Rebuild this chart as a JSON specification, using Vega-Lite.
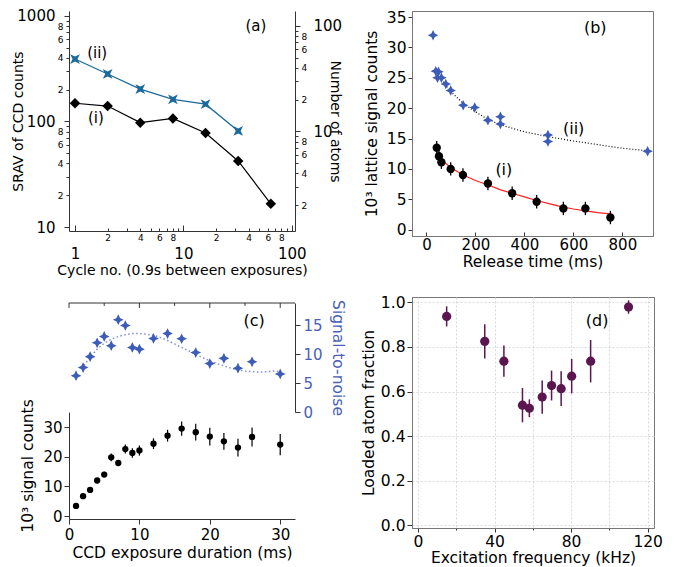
{
 "$schema": "https://vega.github.io/schema/vega-lite/v6.json",
 "background": "white",
 "padding": {"left": 11, "top": 8, "right": 5, "bottom": 3},
 "bounds": "flush",
 "columns": 2,
 "spacing": {"row": 61, "column": 117},
 "config": {
  "view": {"stroke": null},
  "font": "DejaVu Sans",
  "axis": {"labelFont": "DejaVu Sans", "titleFont": "DejaVu Sans", "labelFontSize": 15, "titleFontSize": 14, "titleFontWeight": "normal", "labelColor": "black", "titleColor": "black", "domainColor": "#333", "tickColor": "#333", "grid": false, "labelOverlap": false, "labelFlush": false, "tickSize": 5, "labelPadding": 2},
  "text": {"font": "DejaVu Sans", "fontSize": 15}
 },
 "datasets": {
  "a": [
   {"cycle": 1, "srav": 391, "series": "ii"},
   {"cycle": 2, "srav": 282, "series": "ii"},
   {"cycle": 4, "srav": 203, "series": "ii"},
   {"cycle": 8, "srav": 162, "series": "ii"},
   {"cycle": 16, "srav": 146, "series": "ii"},
   {"cycle": 32, "srav": 81.3, "series": "ii"},
   {"cycle": 1, "srav": 149, "series": "i"},
   {"cycle": 2, "srav": 140, "series": "i"},
   {"cycle": 4, "srav": 97.5, "series": "i"},
   {"cycle": 8, "srav": 107, "series": "i"},
   {"cycle": 16, "srav": 77.8, "series": "i"},
   {"cycle": 32, "srav": 42.3, "series": "i"},
   {"cycle": 64, "srav": 16.6, "series": "i"},
   {"cycle": 46.6, "srav": 804, "series": "label", "label": "(a)"},
   {"cycle": 1.6, "srav": 446, "series": "label", "label": "(ii)"},
   {"cycle": 1.56, "srav": 108, "series": "label", "label": "(i)"}
  ],
  "b": [
   {"t": 27, "v": 32.0, "s": "ii"},
   {"t": 38, "v": 26.1, "s": "ii"},
   {"t": 49, "v": 26.0, "s": "ii"},
   {"t": 45, "v": 25.0, "s": "ii"},
   {"t": 61, "v": 25.0, "s": "ii"},
   {"t": 79, "v": 24.0, "s": "ii"},
   {"t": 99, "v": 22.9, "s": "ii"},
   {"t": 150, "v": 20.5, "s": "ii"},
   {"t": 197, "v": 20.1, "s": "ii"},
   {"t": 251, "v": 18.0, "s": "ii"},
   {"t": 302, "v": 18.6, "s": "ii"},
   {"t": 302, "v": 17.4, "s": "ii"},
   {"t": 496, "v": 15.6, "s": "ii"},
   {"t": 496, "v": 14.5, "s": "ii"},
   {"t": 903, "v": 12.9, "s": "ii"},
   {"t": 42, "v": 13.5, "err": 1.1, "s": "i"},
   {"t": 51, "v": 12.1, "err": 1.1, "s": "i"},
   {"t": 61, "v": 11.1, "err": 1.1, "s": "i"},
   {"t": 99, "v": 10.0, "err": 1.1, "s": "i"},
   {"t": 149, "v": 9.0, "err": 1.1, "s": "i"},
   {"t": 251, "v": 7.6, "err": 1.1, "s": "i"},
   {"t": 350, "v": 6.0, "err": 1.1, "s": "i"},
   {"t": 450, "v": 4.6, "err": 1.1, "s": "i"},
   {"t": 559, "v": 3.5, "err": 1.1, "s": "i"},
   {"t": 649, "v": 3.5, "err": 1.1, "s": "i"},
   {"t": 751, "v": 2.0, "err": 1.1, "s": "i"},
   {"t": 45, "v": 12.3, "s": "fi"},
   {"t": 70, "v": 11.2, "s": "fi"},
   {"t": 100, "v": 10.2, "s": "fi"},
   {"t": 150, "v": 9.0, "s": "fi"},
   {"t": 200, "v": 8.1, "s": "fi"},
   {"t": 250, "v": 7.4, "s": "fi"},
   {"t": 300, "v": 6.6, "s": "fi"},
   {"t": 350, "v": 6.0, "s": "fi"},
   {"t": 400, "v": 5.4, "s": "fi"},
   {"t": 450, "v": 4.8, "s": "fi"},
   {"t": 500, "v": 4.3, "s": "fi"},
   {"t": 550, "v": 3.8, "s": "fi"},
   {"t": 600, "v": 3.4, "s": "fi"},
   {"t": 650, "v": 3.1, "s": "fi"},
   {"t": 700, "v": 2.8, "s": "fi"},
   {"t": 750, "v": 2.6, "s": "fi"},
   {"t": 45, "v": 25.5, "s": "fii"},
   {"t": 100, "v": 22.7, "s": "fii"},
   {"t": 150, "v": 20.8, "s": "fii"},
   {"t": 200, "v": 19.4, "s": "fii"},
   {"t": 250, "v": 18.2, "s": "fii"},
   {"t": 300, "v": 17.3, "s": "fii"},
   {"t": 400, "v": 16.1, "s": "fii"},
   {"t": 500, "v": 15.3, "s": "fii"},
   {"t": 600, "v": 14.6, "s": "fii"},
   {"t": 700, "v": 14.0, "s": "fii"},
   {"t": 800, "v": 13.4, "s": "fii"},
   {"t": 900, "v": 13.0, "s": "fii"},
   {"t": 689, "v": 33.2, "s": "label", "label": "(b)"},
   {"t": 601, "v": 16.6, "s": "label", "label": "(ii)"},
   {"t": 316, "v": 9.9, "s": "label", "label": "(i)"}
  ],
  "c_sig": [
   {"x": 1, "sig": 3.4, "err": 0.5},
   {"x": 2, "sig": 6.7, "err": 0.6},
   {"x": 3, "sig": 8.8, "err": 0.7},
   {"x": 4, "sig": 12.0, "err": 0.8},
   {"x": 5, "sig": 14.0, "err": 0.9},
   {"x": 6, "sig": 19.8, "err": 1.3},
   {"x": 7, "sig": 17.9, "err": 1.0},
   {"x": 8, "sig": 22.6, "err": 1.5},
   {"x": 9, "sig": 21.3, "err": 1.6},
   {"x": 10, "sig": 22.1, "err": 1.7},
   {"x": 12, "sig": 24.4, "err": 1.8},
   {"x": 14, "sig": 27.1, "err": 2.0},
   {"x": 16, "sig": 29.5, "err": 2.4},
   {"x": 18, "sig": 28.3, "err": 2.8},
   {"x": 20, "sig": 26.8, "err": 3.0},
   {"x": 22, "sig": 25.2, "err": 2.8},
   {"x": 24, "sig": 23.1, "err": 3.0},
   {"x": 26, "sig": 26.7, "err": 3.2},
   {"x": 30, "sig": 24.1, "err": 3.6}
  ],
  "c_snr": [
   {"x": 1, "snr": 6.3},
   {"x": 2, "snr": 7.7},
   {"x": 3, "snr": 9.6},
   {"x": 4, "snr": 12.0},
   {"x": 5, "snr": 13.1},
   {"x": 6, "snr": 11.5},
   {"x": 7, "snr": 16.0},
   {"x": 8, "snr": 15.0},
   {"x": 9, "snr": 11.2},
   {"x": 10, "snr": 10.9},
   {"x": 12, "snr": 12.75},
   {"x": 14, "snr": 13.6},
   {"x": 16, "snr": 12.7},
   {"x": 18, "snr": 10.3},
   {"x": 20, "snr": 8.4},
   {"x": 22, "snr": 9.3},
   {"x": 24, "snr": 7.6},
   {"x": 26, "snr": 8.7},
   {"x": 30, "snr": 6.6}
  ],
  "c_fit": [
   {"x": 1.8, "snr": 7.5}, {"x": 3, "snr": 9.5}, {"x": 4, "snr": 10.9}, {"x": 5, "snr": 11.9},
   {"x": 6, "snr": 12.6}, {"x": 7, "snr": 13.1}, {"x": 8, "snr": 13.4}, {"x": 9, "snr": 13.6},
   {"x": 10, "snr": 13.6}, {"x": 11, "snr": 13.5}, {"x": 12, "snr": 13.3}, {"x": 13, "snr": 12.9},
   {"x": 14, "snr": 12.4}, {"x": 15, "snr": 11.8}, {"x": 16, "snr": 11.2}, {"x": 17, "snr": 10.6},
   {"x": 18, "snr": 10.0}, {"x": 19, "snr": 9.4}, {"x": 20, "snr": 8.9}, {"x": 21, "snr": 8.4},
   {"x": 22, "snr": 8.0}, {"x": 23, "snr": 7.6}, {"x": 24, "snr": 7.3}, {"x": 25, "snr": 7.1},
   {"x": 26, "snr": 7.0}, {"x": 27, "snr": 6.9}, {"x": 28, "snr": 7.0}, {"x": 29, "snr": 7.1},
   {"x": 30, "snr": 7.0}
  ],
  "c_top": [
   {"x": 0, "snr": 18.9},
   {"x": 32.1, "snr": 18.9}
  ],
  "c_ticks": [
   {"x": 0, "snr": 18.9, "snr2": 18.05},
   {"x": 5, "snr": 18.9, "snr2": 18.4},
   {"x": 10, "snr": 18.9, "snr2": 18.05},
   {"x": 15, "snr": 18.9, "snr2": 18.4},
   {"x": 20, "snr": 18.9, "snr2": 18.05},
   {"x": 25, "snr": 18.9, "snr2": 18.4},
   {"x": 30, "snr": 18.9, "snr2": 18.05}
  ],
  "d": [
   {"f": 15.0, "frac": 0.937, "err": 0.045},
   {"f": 34.9, "frac": 0.825, "err": 0.077},
   {"f": 44.9, "frac": 0.736, "err": 0.07},
   {"f": 54.6, "frac": 0.539, "err": 0.077},
   {"f": 58.2, "frac": 0.525, "err": 0.04},
   {"f": 64.9, "frac": 0.575, "err": 0.075},
   {"f": 69.8, "frac": 0.627, "err": 0.067},
   {"f": 74.8, "frac": 0.613, "err": 0.078},
   {"f": 80.3, "frac": 0.669, "err": 0.077},
   {"f": 90.2, "frac": 0.736, "err": 0.095},
   {"f": 110, "frac": 0.979, "err": 0.03}
  ]
 },
 "concat": [
  {
   "width": 226, "height": 220,
   "data": {"name": "a"},
   "encoding": {
    "x": {"field": "cycle", "type": "quantitative", "scale": {"type": "log", "domain": [0.88, 107], "nice": false},
     "axis": {"title": "Cycle no. (0.9s between exposures)", "titlePadding": 2,
      "values": [1,2,3,4,5,6,7,8,9,10,20,30,40,50,60,70,80,90,100],
      "labelExpr": "(datum.value==1||datum.value==10||datum.value==100||datum.value==1000) ? format(datum.value,'d') : (indexof([2,4,6,8,20,40,60,80,200,400,600,800],datum.value)>=0 ? slice(format(datum.value,'d'),0,1) : '')",
      "labelFontSize": {"condition": {"test": "datum.value==1||datum.value==10||datum.value==100", "value": 15}, "value": 9},
      "labelPadding": {"condition": {"test": "datum.value==1||datum.value==10||datum.value==100", "value": 21}, "value": 5},
      "tickSize": {"condition": {"test": "datum.value==1||datum.value==10||datum.value==100", "value": -6}, "value": -3}}}
   },
   "layer": [
    {
     "encoding": {
      "y": {"field": "srav", "type": "quantitative", "scale": {"type": "log", "domain": [9.165, 1115], "nice": false},
       "axis": {"title": "SRAV of CCD counts", "titlePadding": -9,
        "values": [10,20,30,40,50,60,70,80,90,100,200,300,400,500,600,700,800,900,1000],
        "labelExpr": "(datum.value==1||datum.value==10||datum.value==100||datum.value==1000) ? format(datum.value,'d') : (indexof([2,4,6,8,20,40,60,80,200,400,600,800],datum.value)>=0 ? slice(format(datum.value,'d'),0,1) : '')",
        "labelFontSize": {"condition": {"test": "datum.value==10||datum.value==100||datum.value==1000", "value": 15}, "value": 9},
        "labelPadding": {"condition": {"test": "datum.value==10||datum.value==100||datum.value==1000", "value": 9}, "value": 3},
        "tickSize": {"condition": {"test": "datum.value==10||datum.value==100||datum.value==1000", "value": 5}, "value": 3}}}
     },
     "layer": [
      {"transform": [{"filter": "datum.series=='ii'"}], "mark": {"type": "line", "color": "#1b6a9b", "strokeWidth": 1.3}},
      {"transform": [{"filter": "datum.series=='ii'"}], "mark": {"type": "point", "filled": true, "opacity": 1, "color": "#1b6a9b", "shape": "M-1,-1L0,-0.5L1,-1L0.5,0L1,1L0,0.5L-1,1L-0.5,0Z", "size": 95}},
      {"transform": [{"filter": "datum.series=='i'"}], "mark": {"type": "line", "color": "black", "strokeWidth": 1.2}},
      {"transform": [{"filter": "datum.series=='i'"}], "mark": {"type": "point", "filled": true, "opacity": 1, "color": "black", "shape": "diamond", "size": 110}},
      {"transform": [{"filter": "datum.series=='label'"}], "mark": {"type": "text", "fontSize": 15}, "encoding": {"text": {"field": "label"}}}
     ]
    },
    {
     "transform": [{"filter": "datum.series!='label'"}],
     "mark": {"type": "point", "opacity": 0, "clip": true},
     "encoding": {
      "y": {"field": "srav", "type": "quantitative", "scale": {"type": "log", "domain": [1.14, 138.7], "nice": false},
       "axis": {"orient": "right", "title": "Number of atoms", "titlePadding": -14,
        "values": [2,3,4,5,6,7,8,9,10,20,30,40,50,60,70,80,90,100],
        "labelExpr": "(datum.value==1||datum.value==10||datum.value==100||datum.value==1000) ? format(datum.value,'d') : (indexof([2,4,6,8,20,40,60,80,200,400,600,800],datum.value)>=0 ? slice(format(datum.value,'d'),0,1) : '')",
        "labelFontSize": {"condition": {"test": "datum.value==10||datum.value==100", "value": 15}, "value": 9},
        "labelPadding": {"condition": {"test": "datum.value==10||datum.value==100", "value": 13}, "value": 3},
        "tickSize": {"condition": {"test": "datum.value==10||datum.value==100", "value": 5}, "value": 3}}}
     }
    }
   ],
   "resolve": {"scale": {"y": "independent"}}
  },
  {
   "width": 241, "height": 225,
   "view": {"stroke": "#777"},
   "data": {"name": "b"},
   "encoding": {
    "x": {"field": "t", "type": "quantitative", "scale": {"domain": [-59, 925], "nice": false, "zero": false},
     "axis": {"title": "Release time (ms)", "values": [0, 200, 400, 600, 800], "tickSize": -4, "labelPadding": 5, "titlePadding": 2, "domainColor": "#777", "labelFontSize": 15, "titleFontSize": 15.5}},
    "y": {"field": "v", "type": "quantitative", "scale": {"domain": [-1.04, 36], "nice": false, "zero": false},
     "axis": {"title": "10³ lattice signal counts", "values": [0, 5, 10, 15, 20, 25, 30, 35], "tickSize": 4, "labelPadding": 2, "titlePadding": 7, "domainColor": "#777", "labelFontSize": 15.5, "titleFontSize": 15.5}}
   },
   "layer": [
    {"transform": [{"filter": "datum.s=='fi'"}], "mark": {"type": "line", "color": "#ff2020", "strokeWidth": 1.2}},
    {"transform": [{"filter": "datum.s=='fii'"}], "mark": {"type": "line", "color": "black", "strokeWidth": 1.2, "strokeDash": [1, 2]}},
    {"transform": [{"filter": "datum.s=='i'"}], "mark": {"type": "errorbar", "color": "black", "thickness": 1.3}, "encoding": {"yError": {"field": "err"}}},
    {"transform": [{"filter": "datum.s=='i'"}], "mark": {"type": "point", "filled": true, "opacity": 1, "color": "black", "shape": "circle", "size": 70}},
    {"transform": [{"filter": "datum.s=='ii'"}], "mark": {"type": "point", "filled": true, "opacity": 1, "color": "#3d5cb8", "shape": "M0,-1L0.33,-0.33L1,0L0.33,0.33L0,1L-0.33,0.33L-1,0L-0.33,-0.33Z", "size": 110}},
    {"transform": [{"filter": "datum.s=='label'"}], "mark": {"type": "text", "fontSize": 16}, "encoding": {"text": {"field": "label"}}}
   ]
  },
  {
   "width": 226, "height": 222,
   "layer": [
    {
     "data": {"name": "c_sig"},
     "encoding": {
      "x": {"field": "x", "type": "quantitative", "scale": {"domain": [0, 32.1], "nice": false, "zero": false},
       "axis": {"orient": "bottom", "title": "CCD exposure duration (ms)", "values": [0, 10, 20, 30], "tickSize": 5, "labelPadding": 3, "titlePadding": 3, "labelFontSize": 15, "titleFontSize": 15.5}},
      "y": {"field": "sig", "type": "quantitative", "scale": {"domain": [-1, 35.1], "range": [222, 115], "nice": false, "zero": false},
       "axis": {"title": "10³ signal counts", "values": [0, 10, 20, 30], "titlePadding": 7, "labelFontSize": 15, "titleFontSize": 15.5}}
     },
     "layer": [
      {"mark": {"type": "errorbar", "color": "black", "thickness": 1.2}, "encoding": {"yError": {"field": "err"}}},
      {"mark": {"type": "point", "filled": true, "opacity": 1, "color": "black", "shape": "circle", "size": 40}}
     ]
    },
    {
     "encoding": {
      "x": {"field": "x", "type": "quantitative"},
      "y": {"field": "snr", "type": "quantitative", "scale": {"domain": [0, 18.9], "range": [115, 6], "nice": false, "zero": false},
       "axis": {"orient": "right", "title": "Signal-to-noise", "values": [0, 5, 10, 15], "labelColor": "#4a5fb5", "titleColor": "#4a5fb5", "labelPadding": 3, "titlePadding": 7, "labelFontSize": 15, "titleFontSize": 15.5}}
     },
     "layer": [
      {"data": {"name": "c_top"}, "mark": {"type": "line", "color": "#333", "strokeWidth": 1}},
      {"data": {"name": "c_ticks"}, "mark": {"type": "rule", "color": "#333", "strokeWidth": 1}, "encoding": {"y2": {"field": "snr2"}}},
      {"data": {"name": "c_fit"}, "mark": {"type": "line", "color": "#7b8fd6", "strokeWidth": 1.5, "strokeDash": [1.5, 2.5]}},
      {"data": {"name": "c_snr"}, "mark": {"type": "point", "filled": true, "opacity": 1, "color": "#3d5cb8", "shape": "M0,-1L0.33,-0.33L1,0L0.33,0.33L0,1L-0.33,0.33L-1,0L-0.33,-0.33Z", "size": 115}},
      {"data": {"values": [{"x": 26.3, "snr": 15.75, "label": "(c)"}]}, "mark": {"type": "text", "fontSize": 16}, "encoding": {"text": {"field": "label"}}}
     ]
    }
   ],
   "resolve": {"scale": {"y": "independent"}}
  },
  {
   "width": 242, "height": 231,
   "view": {"stroke": "#777"},
   "encoding": {
    "x": {"field": "f", "type": "quantitative", "scale": {"domain": [-3.1, 123.3], "nice": false, "zero": false},
     "axis": {"title": "Excitation frequency (kHz)", "values": [0, 20, 40, 60, 80, 100, 120], "labelExpr": "datum.value % 40 == 0 ? datum.label : ''",
      "tickSize": {"condition": {"test": "datum.value % 40 == 0", "value": 4}, "value": 2}, "labelPadding": 2, "titlePadding": 1,
      "grid": true, "gridColor": "#d8d8d8", "gridDash": [2, 2], "domainColor": "#777", "labelFontSize": 15.5, "titleFontSize": 15.5}},
    "y": {"field": "frac", "type": "quantitative", "scale": {"domain": [-0.012, 1.024], "nice": false, "zero": false},
     "axis": {"title": "Loaded atom fraction", "values": [0, 0.2, 0.4, 0.6, 0.8, 1.0], "format": ".1f", "labelPadding": 2, "titlePadding": 4,
      "grid": true, "gridColor": "#d8d8d8", "gridDash": [2, 2], "domainColor": "#777", "labelFontSize": 15.5, "titleFontSize": 15.5}}
   },
   "layer": [
    {"data": {"name": "d"}, "mark": {"type": "errorbar", "color": "#5b1650", "thickness": 1.5}, "encoding": {"yError": {"field": "err"}}},
    {"data": {"name": "d"}, "mark": {"type": "point", "filled": true, "opacity": 1, "color": "#5b1650", "shape": "circle", "size": 85}},
    {"data": {"values": [{"f": 93.6, "frac": 0.915, "label": "(d)"}]}, "mark": {"type": "text", "fontSize": 16}, "encoding": {"text": {"field": "label"}}}
   ]
  }
 ]
}
